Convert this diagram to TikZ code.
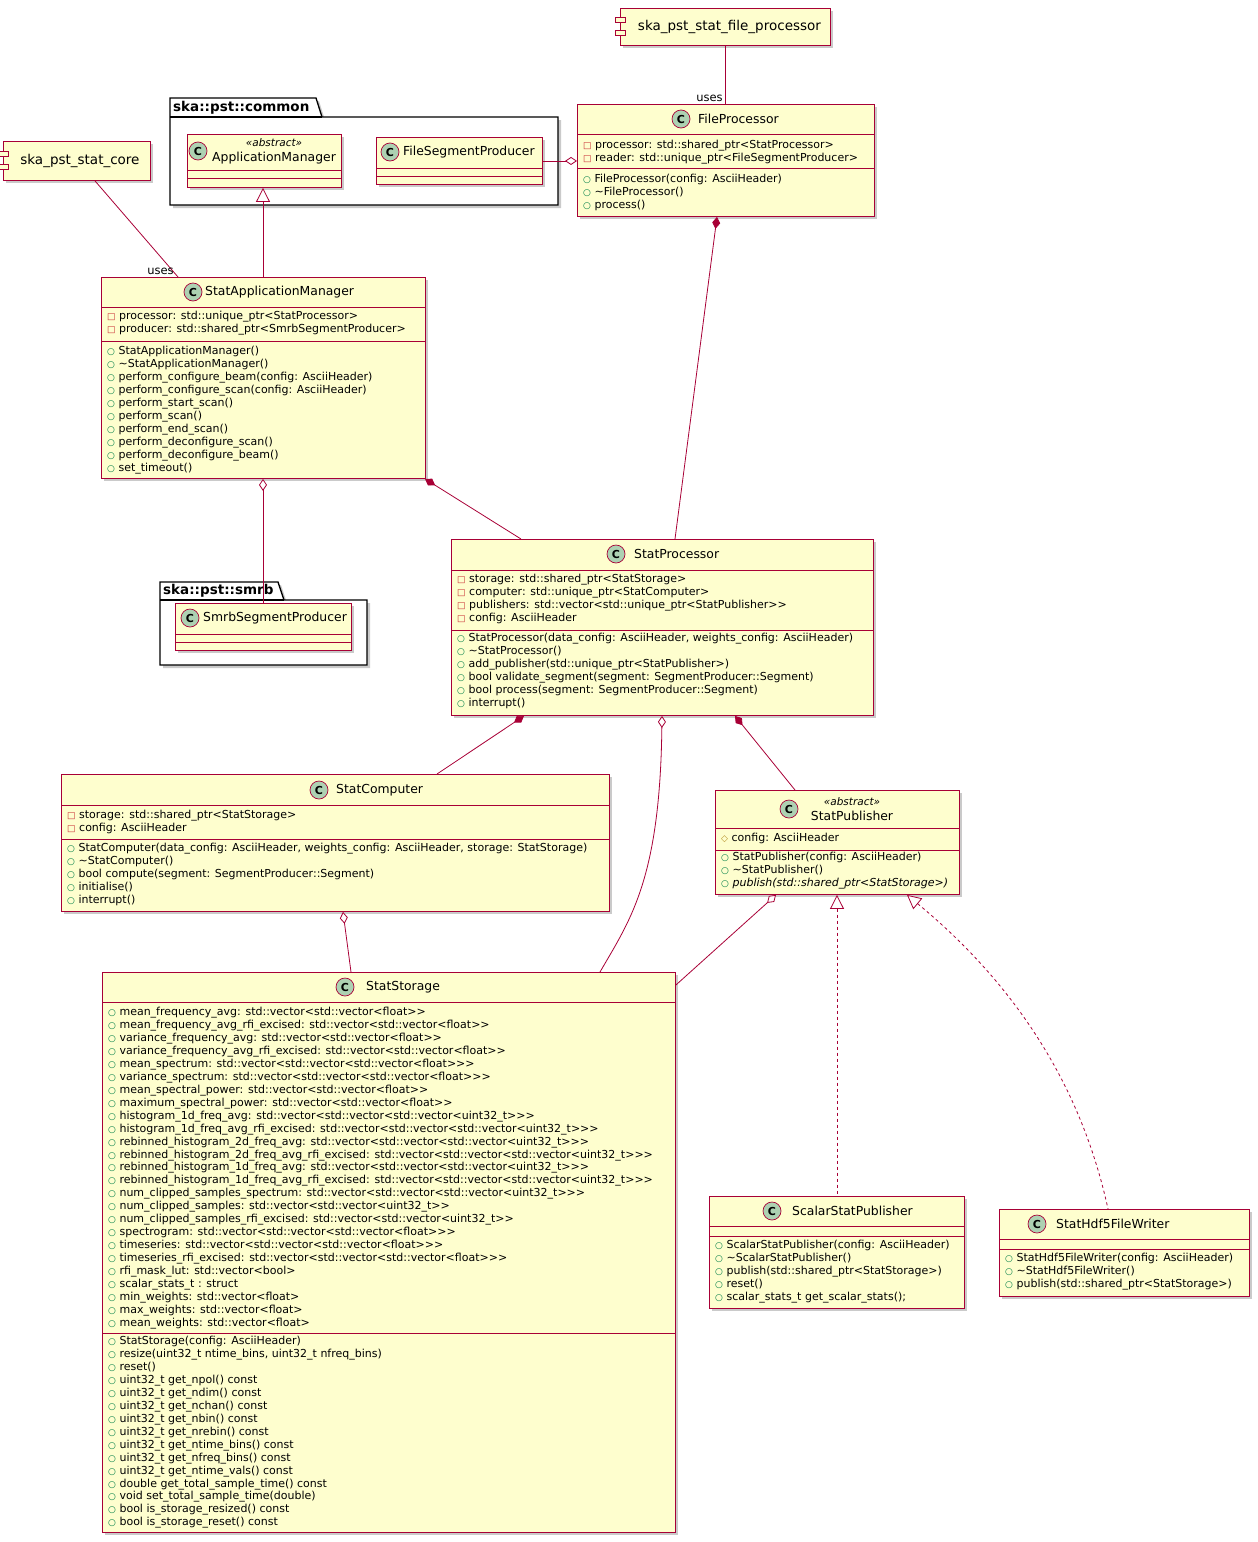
\documentclass[tikz,border=0pt]{standalone}
\usepackage{fontspec}
\setmainfont{DejaVu Sans}
\usetikzlibrary{shadows,arrows.meta,calc}
\definecolor{bord}{HTML}{A80036}
\definecolor{cfill}{HTML}{FEFECE}
\definecolor{icong}{HTML}{ADD1B2}
\definecolor{pubc}{HTML}{038048}
\definecolor{pric}{HTML}{C82930}
\definecolor{proc}{HTML}{B38D22}
\newcommand\pri{{\fontsize{9}{9}\selectfont\textcolor{pric}{□}}\ }
\newcommand\pub{{\fontsize{9}{9}\selectfont\textcolor{pubc}{○}}\ }
\newcommand\pro{{\fontsize{9}{9}\selectfont\textcolor{proc}{◇}}\ }
\newcommand\memf{\fontsize{11}{12.95}\selectfont}
\tikzset{
 x=1pt,y=1pt,
 cbox/.style={draw=bord,fill=cfill,line width=0.9pt,inner sep=0,anchor=north west,
   drop shadow={shadow xshift=3pt,shadow yshift=-3pt,fill=black!35,opacity=0.6}},
 sepl/.style={draw=bord,line width=0.9pt},
 ttl/.style={anchor=west,inner sep=0,font=\fontsize{12.4}{13}\selectfont},
 icon/.style={circle,draw=bord,fill=icong,line width=0.7pt,minimum size=18pt,inner sep=0,font=\bfseries\fontsize{11}{11}\selectfont},
 mem/.style={anchor=north west,inner sep=0,align=left,font=\memf},
 conn/.style={draw=bord,line width=0.8pt},
 odia/.tip={Diamond[open,fill=white,length=12pt,width=8pt]},
 fdia/.tip={Diamond[fill=bord,length=12pt,width=8pt]},
 tri/.tip={Triangle[open,fill=white,length=14pt,width=14pt]},
 pkg/.style={draw=black,fill=white,line width=1.3pt,
   drop shadow={shadow xshift=3pt,shadow yshift=-3pt,fill=black!35,opacity=0.6}},
 comp/.style={draw=bord,fill=cfill,line width=0.9pt,anchor=north west,inner sep=0,
   font=\fontsize{13.5}{13.5}\selectfont,
   drop shadow={shadow xshift=3pt,shadow yshift=-3pt,fill=black!35,opacity=0.6}},
 ptxt/.style={anchor=west,inner sep=0,font=\bfseries\fontsize{13.5}{13.5}\selectfont},
}
\newcommand\cls[5]{% name x1 y1 x2 y2
 \node[cbox,minimum width=#4-#2,minimum height=#5-#3] (#1) at (#2,-#3) {};}
\begin{document}
\begin{tikzpicture}
\useasboundingbox (0,0) rectangle (1258,-1542);
% components
\node[comp,minimum width=210,minimum height=37] (cfp) at (620,-8) {\hspace*{8pt}ska\_pst\_stat\_file\_processor};
\draw[draw=bord,fill=cfill,line width=0.8pt] (615,-17) rectangle (625,-22) (615,-30) rectangle (625,-35);
\node[comp,minimum width=147,minimum height=39] (ccore) at (3,-141) {\hspace*{6pt}ska\_pst\_stat\_core};
\draw[draw=bord,fill=cfill,line width=0.8pt] (-2,-151) rectangle (8,-156) (-2,-164) rectangle (8,-169);
% packages
\draw[pkg] (170,-98) -- (316,-98) -- (322,-117) -- (558,-117) -- (558,-205) -- (170,-205) -- cycle;
\draw[line width=1.3pt] (170,-117) -- (322,-117);
\node[ptxt] (pcommon) at (173,-108) {ska::pst::common};
\draw[pkg] (160,-582) -- (278,-582) -- (284,-600) -- (367,-600) -- (367,-665) -- (160,-665) -- cycle;
\draw[line width=1.3pt] (160,-600) -- (284,-600);
\node[ptxt] (psmrb) at (163,-591) {ska::pst::smrb};
% ApplicationManager
\cls{am}{187}{134}{341}{187}
\draw[sepl] (187,-170) -- (341,-170) (187,-178) -- (341,-178);
\node[icon] at (198,-151) {C};
\node[anchor=center,inner sep=0,font=\itshape\fontsize{10.5}{11}\selectfont] at (274,-143) {«abstract»};
\node[anchor=center,inner sep=0,font=\fontsize{12.4}{13}\selectfont] at (274,-158) {ApplicationManager};
% FileSegmentProducer
\cls{fsp}{376}{137}{542}{184}
\draw[sepl] (376,-168) -- (542,-168) (376,-176) -- (542,-176);
\node[icon] at (390,-152) {C};
\node[ttl] at (403,-152) {FileSegmentProducer};
% FileProcessor
\cls{fp}{577}{104}{874}{216}
\draw[sepl] (577,-134) -- (874,-134) (577,-168) -- (874,-168);
\node[icon] at (681,-119) {C};
\node[ttl] at (698,-119) {FileProcessor};
\node[mem] at (583,-140) {\pri processor: std::shared\_ptr<StatProcessor>\\\pri reader: std::unique\_ptr<FileSegmentProducer>};
\node[mem] at (583,-174) {\pub FileProcessor(config: AsciiHeader)\\\pub \textasciitilde FileProcessor()\\\pub process()};
% StatApplicationManager
\cls{sam}{101}{277}{425}{478}
\draw[sepl] (101,-307) -- (425,-307) (101,-341) -- (425,-341);
\node[icon] at (193,-292) {C};
\node[ttl] at (205,-292) {StatApplicationManager};
\node[mem] at (107,-311) {\pri processor: std::unique\_ptr<StatProcessor>\\\pri producer: std::shared\_ptr<SmrbSegmentProducer>};
\node[mem] at (107,-346) {\pub StatApplicationManager()\\\pub \textasciitilde StatApplicationManager()\\\pub perform\_configure\_beam(config: AsciiHeader)\\\pub perform\_configure\_scan(config: AsciiHeader)\\\pub perform\_start\_scan()\\\pub perform\_scan()\\\pub perform\_end\_scan()\\\pub perform\_deconfigure\_scan()\\\pub perform\_deconfigure\_beam()\\\pub set\_timeout()};
% SmrbSegmentProducer
\cls{ssp}{175}{603}{351}{650}
\draw[sepl] (175,-634) -- (351,-634) (175,-642) -- (351,-642);
\node[icon] at (190,-618) {C};
\node[ttl] at (203,-618) {SmrbSegmentProducer};
% StatProcessor
\cls{sp}{451}{539}{873}{715}
\draw[sepl] (451,-570) -- (873,-570) (451,-630) -- (873,-630);
\node[icon] at (616,-554) {C};
\node[ttl] at (634,-554) {StatProcessor};
\node[mem] at (457,-574) {\pri storage: std::shared\_ptr<StatStorage>\\\pri computer: std::unique\_ptr<StatComputer>\\\pri publishers: std::vector<std::unique\_ptr<StatPublisher>{}>\\\pri config: AsciiHeader};
\node[mem] at (457,-633) {\pub StatProcessor(data\_config: AsciiHeader, weights\_config: AsciiHeader)\\\pub \textasciitilde StatProcessor()\\\pub add\_publisher(std::unique\_ptr<StatPublisher>)\\\pub bool validate\_segment(segment: SegmentProducer::Segment)\\\pub bool process(segment: SegmentProducer::Segment)\\\pub interrupt()};
% StatComputer
\cls{sc}{61}{774}{609}{911}
\draw[sepl] (61,-805) -- (609,-805) (61,-839) -- (609,-839);
\node[icon] at (319,-790) {C};
\node[ttl] at (336,-790) {StatComputer};
\node[mem] at (67,-810) {\pri storage: std::shared\_ptr<StatStorage>\\\pri config: AsciiHeader};
\node[mem] at (67,-843) {\pub StatComputer(data\_config: AsciiHeader, weights\_config: AsciiHeader, storage: StatStorage)\\\pub \textasciitilde StatComputer()\\\pub bool compute(segment: SegmentProducer::Segment)\\\pub initialise()\\\pub interrupt()};
% StatPublisher
\cls{spub}{715}{790}{959}{894}
\draw[sepl] (715,-828) -- (959,-828) (715,-850) -- (959,-850);
\node[icon] at (789,-809) {C};
\node[anchor=center,inner sep=0,font=\itshape\fontsize{10.5}{11}\selectfont] at (852,-802) {«abstract»};
\node[anchor=center,inner sep=0,font=\fontsize{12.4}{13}\selectfont] at (852,-816) {StatPublisher};
\node[mem] at (721,-833) {\pro config: AsciiHeader};
\node[mem] at (721,-852) {\pub StatPublisher(config: AsciiHeader)\\\pub \textasciitilde StatPublisher()\\\pub \textit{publish(std::shared\_ptr<StatStorage>)}};
% StatStorage
\cls{ss}{102}{972}{675}{1532}
\draw[sepl] (102,-1002) -- (675,-1002) (102,-1333) -- (675,-1333);
\node[icon] at (345,-987) {C};
\node[ttl] at (366,-987) {StatStorage};
\node[mem] at (108,-1007) {\pub mean\_frequency\_avg: std::vector<std::vector<float>{}>\\
\pub mean\_frequency\_avg\_rfi\_excised: std::vector<std::vector<float>{}>\\
\pub variance\_frequency\_avg: std::vector<std::vector<float>{}>\\
\pub variance\_frequency\_avg\_rfi\_excised: std::vector<std::vector<float>{}>\\
\pub mean\_spectrum: std::vector<std::vector<std::vector<float>{}>{}>\\
\pub variance\_spectrum: std::vector<std::vector<std::vector<float>{}>{}>\\
\pub mean\_spectral\_power: std::vector<std::vector<float>{}>\\
\pub maximum\_spectral\_power: std::vector<std::vector<float>{}>\\
\pub histogram\_1d\_freq\_avg: std::vector<std::vector<std::vector<uint32\_t>{}>{}>\\
\pub histogram\_1d\_freq\_avg\_rfi\_excised: std::vector<std::vector<std::vector<uint32\_t>{}>{}>\\
\pub rebinned\_histogram\_2d\_freq\_avg: std::vector<std::vector<std::vector<uint32\_t>{}>{}>\\
\pub rebinned\_histogram\_2d\_freq\_avg\_rfi\_excised: std::vector<std::vector<std::vector<uint32\_t>{}>{}>\\
\pub rebinned\_histogram\_1d\_freq\_avg: std::vector<std::vector<std::vector<uint32\_t>{}>{}>\\
\pub rebinned\_histogram\_1d\_freq\_avg\_rfi\_excised: std::vector<std::vector<std::vector<uint32\_t>{}>{}>\\
\pub num\_clipped\_samples\_spectrum: std::vector<std::vector<std::vector<uint32\_t>{}>{}>\\
\pub num\_clipped\_samples: std::vector<std::vector<uint32\_t>{}>\\
\pub num\_clipped\_samples\_rfi\_excised: std::vector<std::vector<uint32\_t>{}>\\
\pub spectrogram: std::vector<std::vector<std::vector<float>{}>{}>\\
\pub timeseries: std::vector<std::vector<std::vector<float>{}>{}>\\
\pub timeseries\_rfi\_excised: std::vector<std::vector<std::vector<float>{}>{}>\\
\pub rfi\_mask\_lut: std::vector<bool>\\
\pub scalar\_stats\_t : struct\\
\pub min\_weights: std::vector<float>\\
\pub max\_weights: std::vector<float>\\
\pub mean\_weights: std::vector<float>};
\node[mem] at (108,-1336) {\pub StatStorage(config: AsciiHeader)\\
\pub resize(uint32\_t ntime\_bins, uint32\_t nfreq\_bins)\\
\pub reset()\\
\pub uint32\_t get\_npol() const\\
\pub uint32\_t get\_ndim() const\\
\pub uint32\_t get\_nchan() const\\
\pub uint32\_t get\_nbin() const\\
\pub uint32\_t get\_nrebin() const\\
\pub uint32\_t get\_ntime\_bins() const\\
\pub uint32\_t get\_nfreq\_bins() const\\
\pub uint32\_t get\_ntime\_vals() const\\
\pub double get\_total\_sample\_time() const\\
\pub void set\_total\_sample\_time(double)\\
\pub bool is\_storage\_resized() const\\
\pub bool is\_storage\_reset() const};
% ScalarStatPublisher
\cls{ssc}{709}{1196}{964}{1308}
\draw[sepl] (709,-1226) -- (964,-1226) (709,-1236) -- (964,-1236);
\node[icon] at (772,-1211) {C};
\node[ttl] at (792,-1211) {ScalarStatPublisher};
\node[mem] at (715,-1240) {\pub ScalarStatPublisher(config: AsciiHeader)\\\pub \textasciitilde ScalarStatPublisher()\\\pub publish(std::shared\_ptr<StatStorage>)\\\pub reset()\\\pub scalar\_stats\_t get\_scalar\_stats();};
% StatHdf5FileWriter
\cls{hdf}{999}{1209}{1249}{1296}
\draw[sepl] (999,-1239) -- (1249,-1239) (999,-1249) -- (1249,-1249);
\node[icon] at (1037,-1224) {C};
\node[ttl] at (1056,-1224) {StatHdf5FileWriter};
\node[mem] at (1005,-1253) {\pub StatHdf5FileWriter(config: AsciiHeader)\\\pub \textasciitilde StatHdf5FileWriter()\\\pub publish(std::shared\_ptr<StatStorage>)};
% connectors
\draw[conn] (725,0 |- cfp.south) -- (725,0 |- fp.north) node[pos=1,anchor=south east,inner sep=2pt,font=\fontsize{11.5}{11.5}\selectfont] {uses};
\draw[conn] (95,0 |- ccore.south) -- (178,0 |- sam.north) node[pos=1,anchor=south east,inner sep=2pt,xshift=-2pt,font=\fontsize{11.5}{11.5}\selectfont] {uses};
\draw[conn,{tri}-] (263,0 |- am.south) -- (263,0 |- sam.north);
\draw[conn,-{odia}] (fsp.east) -- (fp.west |- fsp.east);
\draw[conn,{fdia}-] (717,0 |- fp.south) -- (675,0 |- sp.north);
\draw[conn,{fdia}-] (425,0 |- sam.south) -- (521,0 |- sp.north);
\draw[conn,{odia}-] (263,0 |- sam.south) -- (263,0 |- ssp.north);
\draw[conn,{fdia}-] (524,0 |- sp.south) -- (437,0 |- sc.north);
\draw[conn,{odia}-] (662,0 |- sp.south) .. controls (660,-880) and (630,-920) .. (600,0 |- ss.north);
\draw[conn,{fdia}-] (735,0 |- sp.south) -- (795,0 |- spub.north);
\draw[conn,{odia}-] (343,0 |- sc.south) -- (351,0 |- ss.north);
\draw[conn,{odia}-] (776,0 |- spub.south) -- (ss.east |- 0,-985);
\draw[conn,dashed,{tri}-] (837,0 |- spub.south) -- (837,0 |- ssc.north);
\draw[conn,dashed,{tri}-] (907,0 |- spub.south) .. controls (1010,-980) and (1080,-1080) .. (1108,0 |- hdf.north);
\end{tikzpicture}
\end{document}
